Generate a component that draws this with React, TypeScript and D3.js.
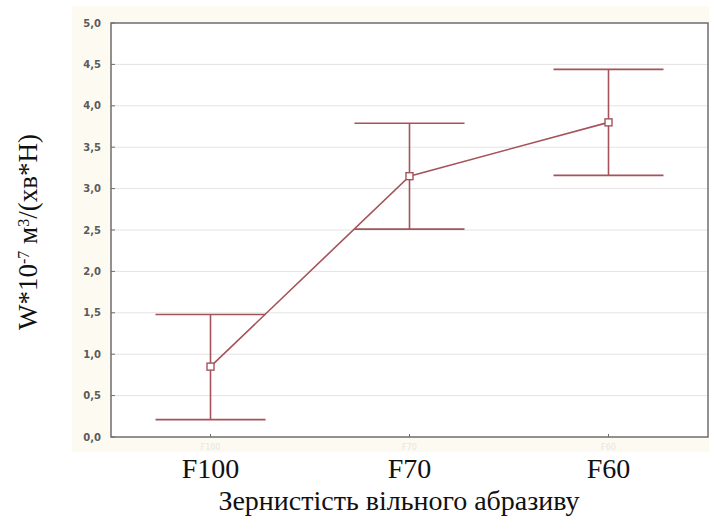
import React from 'react'
import * as d3 from 'd3'

const categories = ['F100', 'F70', 'F60']
const means = [0.85, 3.15, 3.8]
const upper = [1.48, 3.79, 4.44]
const lower = [0.21, 2.51, 3.16]
const yTicks = [0, 0.5, 1, 1.5, 2, 2.5, 3, 3.5, 4, 4.5, 5]

const W = 709
const H = 516
const margin = { top: 23, right: 1, bottom: 79, left: 111 }
const serif = "'Liberation Serif', 'Times New Roman', serif"

const App: React.FC = () => {
    const x = d3
        .scalePoint<string>()
        .domain(categories)
        .range([margin.left, W - margin.right])
        .padding(0.5)

    const y = d3
        .scaleLinear()
        .domain([0, 5])
        .range([H - margin.bottom, margin.top])

    const fmt = (v: number) => v.toFixed(1).replace('.', ',')
    const color = '#a5535a'
    const capHalf = 55

    const line = d3
        .line<number>()
        .x((_, i) => x(categories[i]) as number)
        .y((d) => y(d))

    return (
        <svg
            width={W}
            height={H}
            style={{ position: 'absolute', left: 0, top: 0, background: '#fff' }}
        >
            {/* cream frame behind the plot */}
            <rect x={72} y={6} width={W - 72} height={446} fill="#fdfaf1" />
            <rect
                x={margin.left}
                y={margin.top}
                width={W - margin.right - margin.left}
                height={H - margin.bottom - margin.top}
                fill="#fff"
            />

            {/* gridlines */}
            {yTicks.slice(1, -1).map((t) => (
                <line
                    key={'g' + t}
                    x1={margin.left}
                    x2={W - margin.right}
                    y1={y(t)}
                    y2={y(t)}
                    stroke="#e4e4e4"
                    strokeWidth={1}
                />
            ))}

            {/* frame */}
            <rect
                x={margin.left}
                y={margin.top}
                width={W - margin.right - margin.left}
                height={H - margin.bottom - margin.top}
                fill="none"
                stroke="#6e6e6e"
                strokeWidth={1.5}
            />

            {/* y tick labels */}
            {yTicks.map((t) => (
                <g key={'t' + t}>
                    <line
                        x1={margin.left}
                        x2={margin.left + 4}
                        y1={y(t)}
                        y2={y(t)}
                        stroke="#6e6e6e"
                    />
                    <text
                        x={margin.left - 10}
                        y={y(t)}
                        dy="0.35em"
                        textAnchor="end"
                        fontFamily="'DejaVu Sans', sans-serif"
                        fontWeight="bold"
                        fontSize={10}
                        fill="#5a5a5a"
                    >
                        {fmt(t)}
                    </text>
                </g>
            ))}

            {/* x ticks, faint ghost labels and category labels */}
            {categories.map((c) => (
                <g key={'x' + c}>
                    <line
                        x1={x(c)}
                        x2={x(c)}
                        y1={y(0)}
                        y2={y(0) - 3}
                        stroke="#6e6e6e"
                    />
                    <text
                        x={x(c)}
                        y={y(0) + 13}
                        textAnchor="middle"
                        fontFamily="'DejaVu Sans', sans-serif"
                        fontSize={8}
                        fill="#e6e6e6"
                    >
                        {c}
                    </text>
                    <text
                        x={x(c)}
                        y={478}
                        textAnchor="middle"
                        fontFamily={serif}
                        fontSize={28}
                        fill="#111"
                    >
                        {c}
                    </text>
                </g>
            ))}

            {/* error bars */}
            {categories.map((c, i) => {
                const cx = x(c) as number
                return (
                    <g key={'e' + c} stroke={color} strokeWidth={1.6}>
                        <line x1={cx} x2={cx} y1={y(upper[i])} y2={y(lower[i])} />
                        <line
                            x1={cx - capHalf}
                            x2={cx + capHalf}
                            y1={y(upper[i])}
                            y2={y(upper[i])}
                        />
                        <line
                            x1={cx - capHalf}
                            x2={cx + capHalf}
                            y1={y(lower[i])}
                            y2={y(lower[i])}
                        />
                    </g>
                )
            })}

            {/* mean line */}
            <path
                d={line(means) || ''}
                fill="none"
                stroke={color}
                strokeWidth={1.6}
            />
            {means.map((m, i) => (
                <rect
                    key={'m' + i}
                    x={(x(categories[i]) as number) - 3.5}
                    y={y(m) - 3.5}
                    width={7}
                    height={7}
                    fill="#fff"
                    stroke={color}
                    strokeWidth={1.4}
                />
            ))}

            {/* x axis title */}
            <text
                x={399}
                y={510}
                textAnchor="middle"
                fontFamily={serif}
                fontSize={28}
                fill="#111"
            >
                Зернистість вільного абразиву
            </text>

            {/* y axis title */}
            <text
                transform="translate(37,232) rotate(-90)"
                textAnchor="middle"
                fontFamily={serif}
                fontSize={27}
                fill="#111"
            >
                W*10
                <tspan baselineShift="super" fontSize={16}>
                    -7
                </tspan>{' '}
                м
                <tspan baselineShift="super" fontSize={16}>
                    3
                </tspan>
                /(хв*Н)
            </text>
        </svg>
    )
}

export default App
